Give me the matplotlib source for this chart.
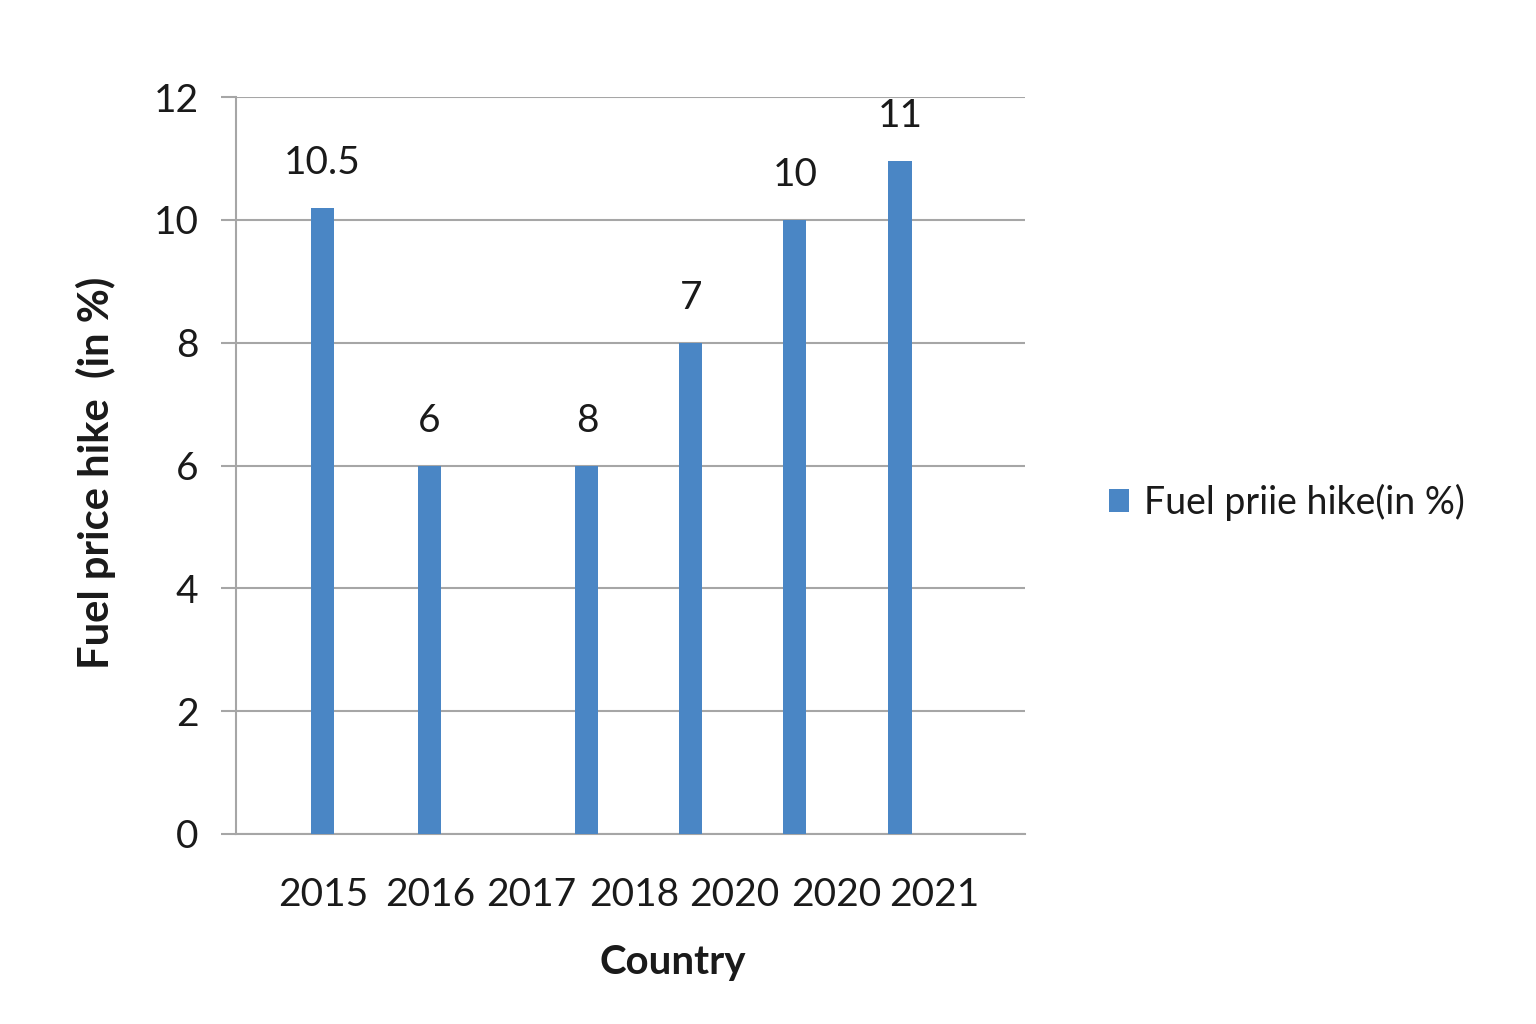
import matplotlib.pyplot as plt

# data
years = ['2015', '2016', '2017', '2018', '2020', '2020', '2021']
bar_values = [10.2, 6, 6, 8, 10, 10.95]
bar_labels = ['10.5', '6', '8', '7', '10', '11']

# layout (the original bars do not sit under their year labels)
bar_pos = [0.0, 1.02, 2.52, 3.51, 4.5, 5.5]
tick_pos = [0.01, 1.03, 1.99, 2.97, 3.92, 4.89, 5.83]

bar_color = '#4a86c5'
grid_color = '#a6a6a6'
text_color = '#1a1a1a'

plt.rcParams['font.family'] = ['Lato', 'DejaVu Sans']

fig = plt.figure(figsize=(15.36, 10.24), dpi=100)
ax = fig.add_axes([236 / 1536, 1 - 834 / 1024, 789 / 1536, 737 / 1024])

bars = ax.bar(bar_pos, bar_values, width=0.22, color=bar_color,
              label='Fuel priie hike(in %)', zorder=3)

for x, v, lab in zip(bar_pos, bar_values, bar_labels):
    ax.annotate(lab, (x, v), xytext=(0, 45), textcoords='offset pixels',
                ha='center', va='center', fontsize=28, color=text_color)

ax.set_xlim(-0.82, 6.69)
ax.set_ylim(0, 12)
ax.set_yticks(range(0, 13, 2))
ax.set_xticks(tick_pos)
ax.set_xticklabels(years)

ax.grid(axis='y', color=grid_color, linewidth=1.5, zorder=0)
ax.set_axisbelow(True)
for s in ['top', 'right']:
    ax.spines[s].set_visible(False)
for s in ['left', 'bottom']:
    ax.spines[s].set_color(grid_color)
    ax.spines[s].set_linewidth(1.5)

ax.tick_params(axis='y', length=11, width=1.5, color=grid_color, pad=16,
               labelsize=28, labelcolor=text_color)
ax.tick_params(axis='x', length=0, pad=31, labelsize=28, labelcolor=text_color)

ax.set_ylabel('Fuel price hike  (in %)', fontsize=30, fontweight='bold',
              color=text_color)
ax.yaxis.set_label_coords(-0.152, 0.49)
ax.set_xlabel('Country', fontsize=29, fontweight='bold', color=text_color)
ax.xaxis.set_label_coords(0.553, -0.149)

fig.legend(handles=[bars], loc='center left', bbox_to_anchor=(1075 / 1536, 1 - 502 / 1024),
           frameon=False, fontsize=27, handlelength=0.55, handleheight=0.55,
           handletextpad=0.4, labelcolor=text_color)

fig.savefig('out.png', dpi=100)
